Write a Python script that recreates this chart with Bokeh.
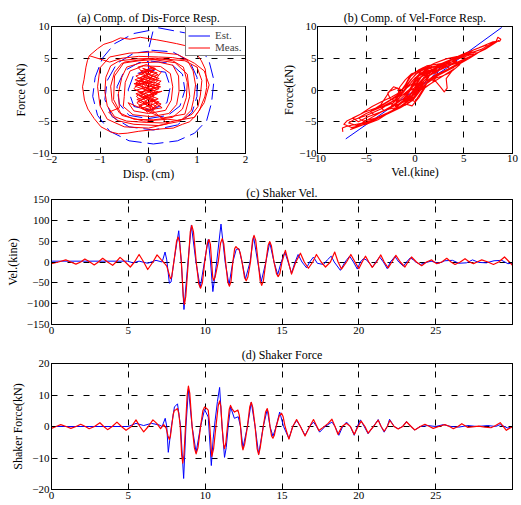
from bokeh.plotting import figure
from bokeh.layouts import column, row
from bokeh.models import Range1d, FixedTicker, LinearAxis, Legend, LegendItem
from bokeh.embed import file_html
from bokeh.resources import INLINE

FONT = "Liberation Serif"
BLUE = "#0000ff"
RED = "#ff0000"

# ---------------- (c) Shaker velocity (kine) vs time (s) ----------------
vel_meas_pts = [
    (0.0, -4), (0.45, 0), (0.93, 5), (1.25, 0), (1.59, -5), (1.9, 0), (2.17, 7), (2.5, 0),
    (2.78, -7), (3.05, 0), (3.33, 9), (3.65, 0), (3.98, -8), (4.2, 0), (4.46, 11), (4.8, 0),
    (5.13, -12), (5.4, 0), (5.7, 18), (6.0, 0), (6.26, -18), (6.6, 0), (6.87, 17), (7.15, 5),
    (7.35, -3), (7.5, -10), (7.74, -40), (7.82, -36), (8.0, 10), (8.14, 50), (8.24, 60),
    (8.33, 48), (8.45, 0), (8.57, -80), (8.65, -102), (8.74, -82), (8.9, 0), (9.03, 72),
    (9.13, 88), (9.24, 72), (9.42, 0), (9.58, -52), (9.7, -63), (9.82, -50), (9.97, 0),
    (10.14, 45), (10.25, 54), (10.34, 42), (10.42, 0), (10.49, -36), (10.55, -44),
    (10.65, -36), (10.85, 0), (11.0, 45), (11.11, 56), (11.21, 44), (11.33, 0),
    (11.47, -48), (11.58, -58), (11.68, -47), (11.8, 0), (11.92, 32), (12.0, 37),
    (12.1, 33), (12.2, 30), (12.28, 22), (12.4, 0), (12.56, -37), (12.67, -45),
    (12.78, -36), (12.95, 0), (13.08, 52), (13.18, 64), (13.29, 52), (13.45, 0),
    (13.58, -46), (13.68, -56), (13.79, -45), (13.95, 0), (14.1, 40), (14.2, 49),
    (14.31, 39), (14.48, 0), (14.64, -28), (14.75, -35), (14.86, -28), (15.0, 0),
    (15.22, 28), (15.42, 0), (15.62, -29), (15.9, 0), (16.2, 21), (16.45, 0), (16.72, -15),
    (17.0, 0), (17.24, 18), (17.55, 0), (17.83, -12), (18.15, 0), (18.43, 24), (18.65, 0),
    (18.87, -17), (19.2, 0), (19.48, 18), (19.75, 0), (20.0, -16), (20.22, 0), (20.43, 14),
    (20.65, 0), (20.87, -13), (21.15, 0), (21.43, 17), (21.65, 0), (21.91, -14), (22.15, 0),
    (22.41, 16), (22.7, 0), (23.0, -12), (23.2, 0), (23.43, 12), (23.75, 0), (24.09, -9),
    (24.4, 0), (24.74, 5), (24.9, 0), (25.07, -4), (25.4, 0), (25.72, 9), (26.0, 0),
    (26.26, -6), (26.6, 0), (26.91, 8), (27.2, 0), (27.46, -4), (27.7, 0), (28.0, 5),
    (28.4, 0), (28.76, -6), (29.1, 0), (29.48, 12), (29.8, 0), (30.0, -8),
]

vel_est_t = [0.0, 4.95, 5.3, 5.7, 6.26, 6.8, 7.2, 7.39, 7.5, 7.67,
             7.78, 8.0, 8.28, 8.45, 8.62, 8.88, 9.1, 9.4, 9.68, 9.95,
             10.2, 10.35, 10.5, 10.75, 11.03, 11.3, 11.55, 11.8, 12.02, 12.2,
             12.4, 12.62, 12.92, 13.15, 13.42, 13.65, 13.95, 14.2, 14.48, 14.72,
             14.95, 15.18, 15.4, 15.62, 15.85, 16.05, 16.3, 16.6, 16.8, 17.05,
             17.3, 17.7, 17.95, 18.2, 18.4, 18.8, 19.1, 19.4, 19.65, 19.9,
             20.1, 20.3, 20.5, 20.9, 21.1, 21.35, 21.6, 21.85, 22.05, 22.35,
             22.6, 22.9, 23.1, 23.35, 23.55, 23.7, 24.0, 24.3, 24.7, 25.2,
             25.6, 26.1, 26.5, 27.0, 27.4, 27.8, 28.3, 28.8, 29.3, 29.7,
             30.0]
vel_est = [2, 2, -2, 2, -3, 4, 0, 24, 5, -51,
           -48, 10, 75, 0, -114, 0, 88, 0, -61, 0,
           54, 0, -71, 0, 91, 0, -55, 0, 30, 32,
           0, -41, 0, 61, 0, -47, 0, 47, 0, -30,
           0, 24, 0, -27, 0, 18, 0, -14, 0, 12,
           -3, -6, 5, 14, 0, -20, 0, 14, 0, -17,
           0, 8, 5, -12, 0, 12, 0, -16, 0, 13,
           0, -10, 0, 10, 5, 0, -6, -2, 2, -3,
           3, 4, -3, -2, 5, -1, -2, 3, 4, -4,
           -3]

# ---------------- (d) Shaker force (kN) vs time (s) ----------------
force_meas_pts = [
    (0.0, -0.6), (0.3, 0.0), (0.6, 0.6), (0.95, 0.0), (1.26, -0.6), (1.6, 0.0), (1.9, 0.7),
    (2.2, 0.0), (2.45, -0.7), (2.8, 0.0), (3.15, 1.2), (3.4, 0.0), (3.65, -1.0), (3.95, 0.0),
    (4.26, 1.4), (4.55, 0.0), (4.85, -1.2), (5.2, 0.0), (5.5, 2.1), (5.75, 0.0), (6.0, -1.7),
    (6.3, 0.0), (6.6, 2.1), (6.85, 1.0), (7.1, -0.7), (7.3, 0.6), (7.46, -0.5), (7.58, -3.0),
    (7.67, -4.1), (7.74, -3.0), (7.82, 0.0), (7.92, 3.8), (8.0, 5.2), (8.1, 5.3), (8.2, 5.7),
    (8.28, 4.2), (8.38, 0.0), (8.47, -9.0), (8.54, -11.6), (8.62, -9.0), (8.72, 0.0),
    (8.83, 10.0), (8.91, 12.8), (9.0, 10.5), (9.15, 0.0), (9.3, -6.8), (9.41, -8.7),
    (9.53, -6.8), (9.7, 0.0), (9.85, 5.0), (9.96, 6.2), (10.08, 5.8), (10.2, 5.2), (10.3, 0.0),
    (10.43, -9.5), (10.55, -7.0), (10.7, 0.0), (10.85, 6.6), (10.94, 8.1), (11.02, 6.4),
    (11.1, 0.0), (11.2, -5.6), (11.26, -7.0), (11.34, -5.4), (11.45, 0.0), (11.57, 5.5),
    (11.65, 6.7), (11.75, 5.6), (11.91, 4.6), (12.02, 4.9), (12.13, 5.2), (12.22, 3.6),
    (12.3, 0.0), (12.39, -5.8), (12.46, -7.4), (12.57, -5.6), (12.75, 0.0), (12.9, 6.2),
    (13.0, 7.7), (13.1, 6.0), (13.25, 0.0), (13.38, -7.0), (13.48, -8.9), (13.58, -6.8),
    (13.78, 0.0), (13.93, 4.6), (14.04, 5.7), (14.12, 4.2), (14.22, 0.0), (14.32, -3.0),
    (14.41, -3.7), (14.5, -2.8), (14.62, 0.0), (14.82, 3.4), (14.97, 4.2), (15.07, 3.2),
    (15.2, 0.0), (15.45, -4.0), (15.7, 0.0), (15.95, 2.2), (16.2, 0.0), (16.5, -3.0),
    (16.8, 0.0), (17.05, 2.2), (17.4, -1.3), (17.7, -0.2), (18.0, 1.0), (18.25, 2.3),
    (18.45, 0.0), (18.64, -2.5), (18.9, 0.0), (19.2, 1.0), (19.45, 0.0), (19.7, -2.5),
    (19.95, 0.0), (20.15, 1.7), (20.4, 0.0), (20.6, -2.1), (20.95, 0.0), (21.26, 2.0),
    (21.45, 0.0), (21.65, -1.5), (21.85, 0.0), (22.02, 1.9), (22.3, 0.0), (22.56, -0.8),
    (22.85, 0.0), (23.1, 1.5), (23.4, 0.0), (23.64, -1.1), (24.0, 0.0), (24.3, 0.7),
    (24.6, 0.0), (24.84, -0.6), (25.2, 0.0), (25.6, 0.6), (25.9, 0.0), (26.15, -0.7),
    (26.45, 0.0), (26.7, 0.9), (27.1, -0.3), (27.8, 0.1), (28.2, -0.2), (28.6, -0.4),
    (28.9, 0.3), (29.2, 1.2), (29.6, -1.2), (30.0, 0.0),
]

force_est_t = [0.0, 4.2, 5.0, 5.5, 6.0, 6.5, 7.0, 7.2, 7.4, 7.5,
               7.6, 7.8, 8.0, 8.2, 8.4, 8.6, 8.75, 8.91, 9.15, 9.41,
               9.7, 9.96, 10.2, 10.4, 10.52, 10.65, 10.8, 10.94, 11.1, 11.26,
               11.37, 11.5, 11.65, 11.9, 12.15, 12.3, 12.46, 12.75, 13.0, 13.25,
               13.48, 13.78, 14.04, 14.22, 14.41, 14.62, 14.85, 15.1, 15.45, 15.7,
               15.95, 16.2, 16.5, 16.8, 17.05, 17.25, 17.45, 17.8, 18.25, 18.45,
               18.7, 18.95, 19.2, 19.45, 19.7, 19.9, 20.1, 20.35, 20.6, 20.95,
               21.26, 21.45, 21.65, 21.85, 22.0, 22.3, 22.55, 22.85, 23.1, 23.4,
               23.64, 24.0, 24.5, 25.0, 25.5, 26.0, 26.5, 27.1, 27.7, 28.4,
               28.9, 29.2, 29.7, 30.0]
force_est = [0.0, 0.0, 0.0, 1.0, 0.3, 1.0, 0.5, 0.0, 2.6, 0.0,
             -8.2, 0.0, 6.2, 7.2, 0.0, -16.5, 0.0, 11.9, 0.0, -8.2,
             0.0, 5.4, 3.0, -12.4, -4.0, 2.0, 8.0, 12.4, 0.0, -9.8,
             -6.7, 0.0, 6.2, 2.6, 3.1, 0.0, -6.7, 0.0, 7.7, 0.0,
             -8.8, 0.0, 5.4, 0.0, -3.1, 0.0, 4.6, 0.0, -3.8, 0.0,
             1.9, 0.0, -2.8, 0.0, 1.4, 0.0, -1.8, 0.0, 1.4, 0.0,
             -2.8, 0.0, 1.4, 0.0, -2.8, 0.0, 2.1, 0.0, -2.3, 0.0,
             2.2, 0.0, -1.8, 0.0, 2.3, 0.0, -0.7, 0.0, 1.6, 0.0,
             -1.1, 0.0, 0.3, 0.0, 0.6, 0.0, -0.2, 0.3, 0.0, 0.3,
             0.0, 0.6, -0.5, 0.0]

# ---------------- (a) displacement (cm) vs force (kN) loops ----------------
dis_force_meas = [
    (-1.22, 5.4), (-1.05, 6.5), (-0.92, 7.2), (-0.75, 7.6), (-0.58, 8.2), (-0.38, 8.0),
    (-0.17, 8.3), (0.0, 8.1), (0.17, 7.9), (0.38, 7.6), (0.58, 7.3), (0.75, 7.0),
    (0.89, 6.2), (1.0, 5.6), (1.09, 4.6), (1.17, 3.3), (1.19, 2.0), (1.2, 0.4),
    (1.16, -1.1), (1.1, -2.2), (1.05, -3.2), (0.95, -4.2), (0.85, -5.0), (0.7, -5.4),
    (0.51, -6.0), (0.3, -6.1), (0.04, -6.3), (-0.2, -6.5), (-0.44, -6.8), (-0.62, -6.9),
    (-0.78, -6.6), (-0.98, -5.8), (-1.12, -4.5), (-1.25, -3.0), (-1.32, -1.6), (-1.36, 0.5),
    (-1.33, 1.6), (-1.29, 3.6), (-1.26, 4.6), (-1.22, 5.4),
    (-0.8, 4.4), (-0.55, 5.0), (-0.2, 5.3), (0.2, 5.2), (0.5, 5.1), (0.8, 4.7),
    (0.92, 3.0), (0.97, 0.8), (0.93, -1.5), (0.88, -3.2), (0.7, -4.6), (0.35, -5.2),
    (-0.05, -5.1), (-0.45, -4.9), (-0.7, -4.2), (-0.85, -2.5), (-0.9, -0.3), (-0.88, 2.0),
    (-0.78, 3.8), (-0.6, 4.6), (-0.25, 4.9), (0.15, 5.0), (0.5, 4.6), (0.72, 3.6),
    (0.8, 1.2), (0.78, -1.2), (0.7, -3.0), (0.5, -4.3), (0.1, -4.7), (-0.3, -4.6),
    (-0.6, -3.6), (-0.75, -1.8), (-0.78, 0.6), (-0.7, 2.8), (-0.55, 4.2), (-0.2, 4.6),
    (0.3, 4.9), (0.75, 4.6), (1.0, 3.6), (1.1, 1.5), (1.07, -0.8), (1.02, -2.6),
    (0.9, -3.8), (0.6, -5.0), (0.2, -5.6), (-0.3, -5.4), (-0.65, -4.8), (-0.82, -3.5),
    (-0.6, -2.8), (-0.62, -0.5), (-0.55, 2.0), (-0.45, 3.6), (-0.15, 4.3), (0.2, 4.4),
    (0.5, 3.9), (0.62, 2.2), (0.63, -0.2), (0.58, -2.3), (0.42, -3.7), (0.05, -4.2),
    (-0.32, -3.9), (-0.52, -2.6), (-0.5, -1.0), (-0.48, 1.2), (-0.38, 3.0), (-0.1, 3.8),
    (0.25, 3.7), (0.45, 2.6), (0.5, 0.5), (0.47, -1.6), (0.35, -3.2), (0.0, -3.7),
    (-0.3, -3.3), (-0.42, -2.0),
    (0.3, -4.4), (0.75, -3.8), (0.85, -1.0), (0.8, 2.5), (0.55, 4.3), (0.0, 4.9),
    (-0.5, 4.4), (-0.7, 2.2), (-0.72, -1.5), (-0.55, -4.0), (-0.1, -4.9), (0.4, -4.6),
    (0.6, -4.8), (0.95, -4.3), (1.15, -2.0), (1.25, 0.8), (1.15, 3.0), (0.95, 4.2),
    (0.6, 5.6), (0.1, 6.0), (-0.4, 5.8), (-0.8, 5.2), (-1.0, 3.5), (-1.05, 0.5),
    (-1.0, -2.5), (-0.85, -4.6), (-0.5, -5.8), (0.0, -6.0), (0.4, -5.3),
    (-0.25, -1.0), (0.2, 1.5), (-0.2, 2.6), (0.15, 3.3), (0.05, 3.6), (-0.1, 2.8),
    (0.22, 1.8), (-0.28, 0.6), (0.18, -0.6), (-0.22, -1.8), (0.12, -2.8), (-0.05, -3.3),
    (-0.2, -2.4), (0.2, -1.4), (-0.25, 0.0), (0.24, 0.9), (-0.18, 1.9), (0.1, 2.9),
    (-0.12, 3.4), (0.2, 2.4), (-0.26, 1.2), (0.22, 0.2), (-0.2, -0.9), (0.18, -2.0),
    (-0.14, -2.9), (0.08, -3.4), (0.16, -2.5), (-0.24, -1.5), (0.2, -0.3), (-0.22, 0.8),
    (0.16, 2.0), (-0.16, 3.0), (0.12, 3.5), (0.02, 2.5), (-0.28, 1.6), (0.25, 0.5),
    (-0.18, -0.4), (0.14, -1.6), (-0.2, -2.6), (0.06, -3.1), (0.22, -1.9), (-0.26, -0.6),
    (0.22, 0.6), (-0.2, 1.5), (0.18, 2.7), (-0.08, 3.2), (0.0, 2.0), (-0.15, 0.5),
    (0.12, -0.8), (-0.1, -2.0), (0.05, -2.8), (0.1, -1.0), (-0.08, 0.8), (0.08, 2.2),
    (-0.05, 1.0), (0.05, -0.5),
    (0.28, -0.2), (-0.12, -1.2), (0.26, -2.2), (-0.02, -3.5), (-0.24, -2.0), (0.14, -0.2),
    (-0.3, 1.0), (0.1, 1.2), (0.26, 2.8), (-0.04, 4.0), (-0.22, 3.6), (-0.06, 2.2),
    (-0.3, 0.2), (0.04, -1.4), (0.28, -2.8), (0.12, -3.0), (-0.16, -1.0), (0.26, 1.4),
    (-0.1, 2.0), (0.02, 3.0), (-0.26, 2.2), (0.18, 0.0),
]
dis_force_est = [
    (0.2, 9.8), (0.75, 9.0), (1.05, 7.0), (1.25, 4.5), (1.35, 1.5), (1.3, -2.0),
    (1.2, -4.8), (0.95, -6.8), (0.6, -8.0), (0.1, -8.5), (-0.4, -8.0), (-0.8, -6.5),
    (-1.05, -4.0), (-1.15, -1.0), (-1.1, 2.0), (-0.95, 5.0), (-0.7, 7.3), (-0.3, 8.9),
    (0.1, 9.5),
    (0.0, 6.3), (0.5, 6.0), (0.85, 4.5), (1.0, 2.0), (1.0, -1.0), (0.9, -3.5),
    (0.6, -5.5), (0.1, -6.3), (-0.4, -5.8), (-0.75, -4.2), (-0.9, -1.5), (-0.85, 1.5),
    (-0.65, 4.2), (-0.3, 5.8), (0.0, 6.1),
    (0.0, 4.6), (0.45, 4.2), (0.7, 2.5), (0.75, 0.0), (0.65, -2.5), (0.4, -4.0),
    (0.0, -4.5), (-0.4, -4.0), (-0.6, -2.2), (-0.65, 0.5), (-0.5, 3.0), (-0.2, 4.3),
    (0.0, 4.5),
    (0.0, 3.2), (0.35, 2.8), (0.45, 0.5), (0.38, -2.0), (0.05, -3.2), (-0.3, -2.6),
    (-0.42, 0.0), (-0.3, 2.5), (0.0, 3.0),
]

# ---------------- (b) velocity (kine) vs force (kN) ----------------
vel_force_meas = [
    (-7.4, -6.6), (-7.45, -6.0), (-7.0, -5.7), (-6.0, -5.4), (-5.0, -5.1), (-3.5, -4.2),
    (-2.0, -3.1), (-1.0, -2.0), (0.0, -0.6), (0.8, 1.0), (2.0, 2.3), (3.5, 3.4),
    (5.0, 4.7), (6.5, 5.9), (7.5, 6.8), (8.3, 7.6), (8.5, 8.3), (8.8, 8.0), (8.7, 7.7),
    (8.0, 7.6), (6.5, 6.6), (5.0, 5.7), (3.5, 4.7), (2.0, 3.7), (1.0, 3.1),
    (0.0, 1.9), (-1.0, 0.1), (-2.0, -1.5), (-3.5, -3.0), (-5.0, -4.0), (-6.3, -4.7),
    (-6.8, -5.2),
    (-6.0, -5.6), (-4.5, -4.9), (-3.0, -3.9), (-1.5, -2.8), (-0.5, -1.9), (0.3, -0.4),
    (1.2, 1.2), (2.5, 2.4), (4.0, 3.6), (5.5, 4.9), (6.4, 5.8),
    (5.8, 6.0), (4.5, 5.1), (3.0, 4.3), (1.5, 3.4), (0.5, 2.6), (-0.3, 1.4),
    (-1.2, -0.4), (-2.2, -1.7), (-3.5, -2.7), (-5.0, -3.7), (-5.8, -4.4),
    (-5.3, -4.9), (-4.0, -4.4), (-2.8, -3.6), (-1.5, -2.6), (-0.3, -1.4), (0.6, 0.2),
    (1.5, 1.6), (3.0, 2.8), (4.5, 4.1), (5.3, 4.9),
    (4.9, 5.3), (3.5, 4.6), (2.2, 3.8), (1.0, 3.3), (0.2, 2.6), (-0.5, 1.5),
    (-1.3, 0.0), (-2.2, 0.5), (-2.8, -0.5), (-2.5, -1.5), (-1.8, -1.7), (-1.4, -0.8),
    (-1.8, 0.3), (-2.6, -0.2), (-3.5, -2.3), (-4.6, -3.4),
    (-4.2, -3.9), (-3.0, -3.2), (-2.0, -2.4), (-1.0, -1.8), (-0.2, -0.8), (0.5, 0.5),
    (1.2, 1.5), (2.0, 1.6), (2.6, 0.5), (3.0, -0.3), (3.3, 0.3), (3.2, 1.8),
    (3.8, 3.0), (4.6, 4.0),
    (4.2, 4.6), (3.0, 4.0), (1.8, 3.6), (0.8, 3.5), (0.0, 2.8), (-0.6, 2.0),
    (-1.0, 0.8), (-1.8, -0.9), (-2.8, -1.9), (-3.6, -2.6),
    (-3.2, -3.2), (-2.0, -2.8), (-1.0, -2.4), (-0.2, -1.6), (0.4, -0.4), (1.0, 0.8),
    (1.8, 2.0), (2.8, 2.8), (3.6, 3.3),
    (3.2, 3.8), (2.2, 3.4), (1.2, 3.0), (0.4, 2.4), (-0.2, 1.2), (-0.6, -0.2),
    (-1.2, -1.4), (-2.0, -2.2),
    (-6.6, -6.2), (-5.5, -5.6), (-4.0, -4.6), (-2.6, -3.6), (-1.2, -2.4), (-0.4, -1.2),
    (0.4, 0.6), (1.4, 2.2), (2.6, 3.2), (4.2, 4.3), (5.8, 5.4), (7.0, 6.3), (7.6, 6.9),
    (7.2, 7.0), (6.0, 6.3), (4.6, 5.4), (3.2, 4.4), (2.0, 3.3), (1.0, 2.6),
    (0.2, 1.6), (-0.6, 0.6), (-1.6, -0.6), (-2.6, -1.6), (-3.8, -2.7), (-5.2, -3.5),
    (-6.2, -4.3), (-7.0, -4.9), (-7.3, -5.4),
    (-6.5, -5.9), (-5.0, -5.4), (-3.8, -4.7), (-2.4, -3.3), (-1.4, -2.1), (-0.6, -1.0),
    (0.2, 0.4), (1.0, 1.9), (2.0, 2.9), (3.0, 3.6), (4.0, 4.7), (5.0, 5.2), (6.0, 5.7),
    (5.4, 5.6), (4.0, 4.9), (2.6, 3.9), (1.4, 3.0), (0.6, 2.0), (0.0, 0.8),
    (-0.8, -0.2), (-1.6, -1.2), (-2.2, -2.0), (-3.0, -2.5), (-4.2, -3.0),
    (-3.0, -2.0), (-2.0, -1.2), (-1.0, -0.6), (0.0, 0.4), (0.8, 1.8), (1.6, 3.0),
    (2.4, 3.6), (3.4, 4.0), (4.4, 4.4),
    (3.6, 4.4), (2.4, 4.1), (1.2, 3.8), (0.4, 3.2), (-0.4, 2.2), (-0.9, 1.0),
    (-1.5, -0.3), (-2.4, -1.1), (-3.4, -1.8), (-4.4, -2.6), (-5.6, -3.8), (-6.4, -4.4),
    (-5.8, -5.0), (-4.8, -4.2), (-3.6, -3.5), (-2.6, -2.8), (-1.6, -1.6), (-0.8, -0.4),
    (-0.2, 0.9), (0.4, 1.8), (1.2, 2.6), (2.2, 3.1), (3.6, 3.9), (4.8, 4.5),
    (5.6, 5.2), (6.6, 6.0), (7.2, 6.4), (8.0, 7.2), (8.6, 7.8),
    (7.8, 7.3), (6.8, 6.4), (5.6, 5.8), (4.4, 5.3), (3.2, 4.9), (2.0, 4.2),
    (1.2, 3.6), (0.4, 3.0), (-0.4, 2.5), (-1.0, 1.6), (-1.6, 0.4),
    (-2.0, -2.6), (-1.0, -1.4), (-0.2, -0.2), (0.6, 1.2), (1.4, 2.6), (2.2, 3.3),
    (1.6, 3.8), (0.8, 3.4), (0.0, 2.4), (-0.6, 1.2), (-1.2, -0.2), (-1.8, -1.0),
    (-2.4, -2.4), (-1.6, -2.2), (-0.8, -1.6), (0.0, -1.0), (0.8, 0.4), (1.6, 1.6),
    (2.8, 2.2), (3.4, 2.6), (4.0, 3.3),
    (-1.5, -2.0), (-0.5, -1.2), (0.3, 0.0), (0.9, 1.4), (1.6, 2.4), (1.2, 2.9),
    (0.4, 2.2), (-0.2, 0.6), (-0.8, -0.8), (-1.0, -2.2), (-0.3, -2.5), (0.4, -1.2),
    (1.0, 0.3), (1.8, 1.2), (2.3, 2.2), (1.5, 3.6), (0.6, 3.0), (0.0, 1.5),
    (-0.5, 0.0), (-1.2, -1.6), (-0.6, -2.0), (0.2, -0.6), (0.8, 0.8), (1.4, 2.0),
    (0.8, 2.4), (0.2, 1.0), (-0.4, -0.5), (-0.9, -1.3), (0.0, -1.8), (0.6, -0.4),
    (1.2, 1.0), (2.0, 1.9), (2.5, 2.5), (1.8, 3.0), (0.9, 2.0), (0.3, 0.6),
    (-0.3, -0.8),
]
vel_force_est = [
    (-7.1, -7.7), (-3.0, -3.3), (0.0, 0.0), (1.5, 1.6), (2.6, 3.6), (2.2, 2.4),
    (3.2, 3.4), (5.0, 5.5), (8.9, 9.85),
]

# tick values
ticks_disp = [-2, -1, 0, 1, 2]
ticks_force_a = [-10, -5, 0, 5, 10]
ticks_vel_b = [-10, -5, 0, 5, 10]
ticks_time = [0, 5, 10, 15, 20, 25]
ticks_vel_c = [-150, -100, -50, 0, 50, 100, 150]
ticks_force_d = [-20, -10, 0, 10, 20]


def styled(width, height, xr, yr, xticks, yticks, title, xlabel, ylabel,
           bl, br, bt, bb, title_standoff=2, tick_standoff=2, label_standoff=4):
    p = figure(width=width, height=height, x_range=Range1d(*xr), y_range=Range1d(*yr),
               output_backend="svg", toolbar_location=None, title=title,
               min_border_left=bl, min_border_right=br,
               min_border_top=bt, min_border_bottom=bb)
    p.background_fill_color = "white"
    p.border_fill_color = "white"
    p.outline_line_color = "black"
    p.outline_line_width = 1
    p.outline_line_alpha = 1
    p.title.text_font = FONT
    p.title.text_font_size = "12px"
    p.title.text_font_style = "normal"
    p.title.text_color = "black"
    p.title.align = "center"
    p.title.standoff = title_standoff
    p.xaxis.ticker = FixedTicker(ticks=xticks)
    p.yaxis.ticker = FixedTicker(ticks=yticks)
    if xlabel:
        p.xaxis.axis_label = xlabel
    if ylabel:
        p.yaxis.axis_label = ylabel
    for ax in list(p.xaxis) + list(p.yaxis):
        ax.major_label_text_font = FONT
        ax.major_label_text_font_size = "11px"
        ax.major_label_text_color = "black"
        ax.axis_label_text_font = FONT
        ax.axis_label_text_font_size = "12px"
        ax.axis_label_text_font_style = "normal"
        ax.axis_label_text_color = "black"
        ax.axis_label_standoff = label_standoff
        ax.major_label_standoff = tick_standoff
        ax.major_tick_in = 4
        ax.major_tick_out = 0
        ax.minor_tick_line_color = None
        ax.axis_line_color = "black"
        ax.major_tick_line_color = "black"
    for side, tk in (("above", xticks), ("right", yticks)):
        ax = LinearAxis(ticker=FixedTicker(ticks=tk), major_label_text_font_size="0px",
                        major_label_text_color=None, major_label_standoff=0,
                        major_tick_in=4, major_tick_out=0,
                        minor_tick_line_color=None, axis_line_color="black",
                        major_tick_line_color="black")
        p.add_layout(ax, side)
    p.grid.grid_line_color = "black"
    p.grid.grid_line_dash = "6 10"
    p.grid.grid_line_width = 1
    return p


def xs(pts):
    return [a for a, b in pts]


def ys(pts):
    return [b for a, b in pts]


# (a)
pa = styled(279, 183, (-2, 2), (-10, 10), ticks_disp, ticks_force_a,
            "(a) Comp. of Dis-Force Resp.", "Disp. (cm)", "Force (kN)",
            51, 34, 26, 29, title_standoff=3, tick_standoff=2, label_standoff=1)
pa.line(xs(dis_force_est), ys(dis_force_est),
        line_color=BLUE, line_width=1, line_dash="16 6", line_join="round")
r_meas_a = pa.line(xs(dis_force_meas), ys(dis_force_meas),
                   line_color=RED, line_width=1, line_join="round")
# one-point line: draws nothing in the plot, gives the legend a solid blue key
est_key = dis_force_est[:1]
r_est_key = pa.line(xs(est_key), ys(est_key), line_color=BLUE, line_width=1)
legend = Legend(items=[LegendItem(label="Est.", renderers=[r_est_key]),
                       LegendItem(label="Meas.", renderers=[r_meas_a])],
                location=(134, 97), margin=0, padding=2, spacing=0,
                glyph_width=22, glyph_height=11, label_height=11, label_width=30,
                label_standoff=5, label_text_font=FONT, label_text_font_size="11px",
                border_line_color="black", border_line_width=1,
                background_fill_color="white", background_fill_alpha=1)
pa.add_layout(legend)

# (b)
pb = styled(242, 183, (-10, 10), (-10, 10), ticks_vel_b, ticks_force_a,
            "(b) Comp. of Vel-Force Resp.", "Vel.(kine)", "Force(kN)",
            37, 9, 26, 29, title_standoff=3, tick_standoff=1, label_standoff=0)
pb.line(xs(vel_force_est), ys(vel_force_est), line_color=BLUE, line_width=1)
pb.line(xs(vel_force_meas), ys(vel_force_meas),
        line_color=RED, line_width=1.1, line_join="round")

# (c)
pc = styled(521, 156, (0, 30), (-150, 150), ticks_time, ticks_vel_c,
            "(c) Shaker Vel.", None, "Vel.(kine)", 51, 9, 14, 15,
            title_standoff=0, tick_standoff=2, label_standoff=4)
pc.line(vel_est_t, vel_est, line_color=BLUE, line_width=1, line_join="round")
pc.line(xs(vel_meas_pts), ys(vel_meas_pts), line_color=RED, line_width=1.2,
        line_join="round")

# (d)
pd = styled(521, 165, (0, 30), (-20, 20), ticks_time, ticks_force_d,
            "(d) Shaker Force", None, "Shaker Force(kN)", 51, 9, 24, 15,
            title_standoff=3, tick_standoff=2, label_standoff=4)
pd.line(force_est_t, force_est, line_color=BLUE, line_width=1, line_join="round")
pd.line(xs(force_meas_pts), ys(force_meas_pts), line_color=RED, line_width=1.2,
        line_join="round")

layout = column(row(pa, pb), pc, pd)
open("out.html", "w").write(file_html(layout, INLINE))
